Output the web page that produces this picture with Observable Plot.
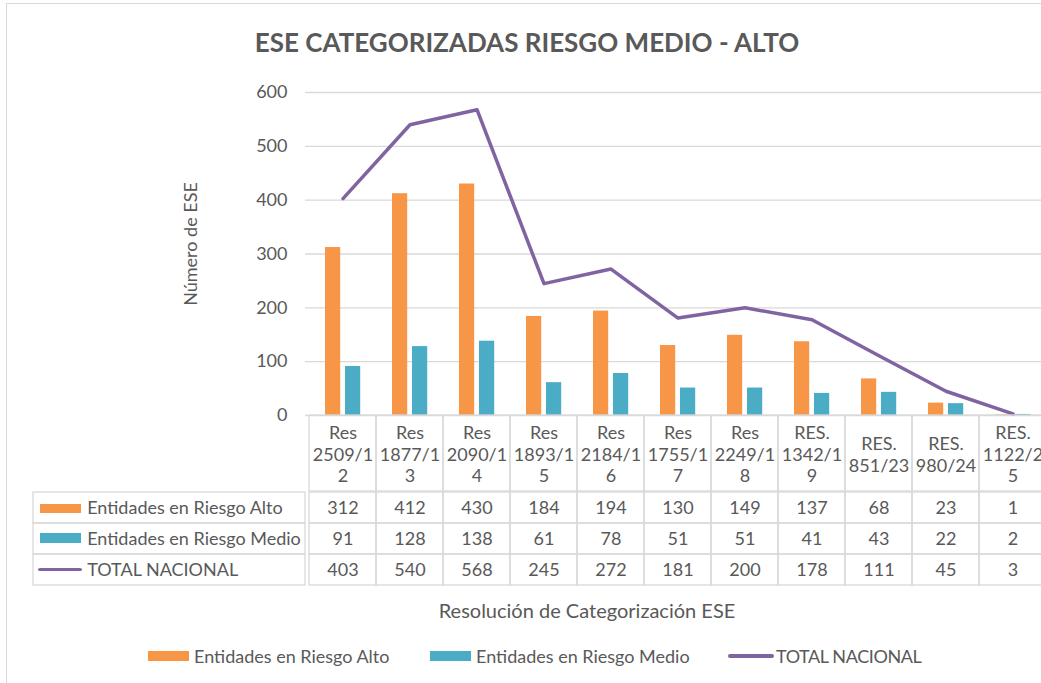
<!DOCTYPE html>
<html><head><meta charset="utf-8">
<script src="https://cdn.jsdelivr.net/npm/d3@7"></script>
<script src="https://cdn.jsdelivr.net/npm/@observablehq/plot@0.6"></script>
<style>
body{margin:0;overflow:hidden;background:#fff;}
#wrap{position:relative;width:1041px;height:683px;overflow:hidden;font-family:Lato,sans-serif;color:#595959;background:#fff;}
#wrap svg{position:absolute;left:0;top:0;}
#border{position:absolute;left:6px;top:3px;width:1100px;height:720px;border:1.5px solid #d9d9d9;box-sizing:border-box;}
#title{position:absolute;left:527px;top:27px;transform:translateX(-50%);font-weight:bold;font-size:26px;line-height:30px;white-space:nowrap;}
#ylabel{position:absolute;left:190px;top:244px;transform:translate(-50%,-50%) rotate(-90deg);font-size:18px;line-height:22px;white-space:nowrap;}
#caption{position:absolute;left:587px;top:597px;transform:translateX(-50%);font-size:20px;line-height:26px;white-space:nowrap;}
.leg{position:absolute;top:645px;font-size:18px;line-height:22px;white-space:nowrap;}
.key{position:absolute;}
</style></head><body><div id="wrap">
<div id="border"></div>
<div id="title">ESE CATEGORIZADAS RIESGO MEDIO - ALTO</div>
<div id="caption">Resolución de Categorización ESE</div>
</div>
<script>
const categories = ["Res\n2509/1\n2","Res\n1877/1\n3","Res\n2090/1\n4","Res\n1893/1\n5","Res\n2184/1\n6","Res\n1755/1\n7","Res\n2249/1\n8","RES.\n1342/1\n9","RES.\n851/23","RES.\n980/24","RES.\n1122/2\n5"];
const seriesNames = ["Entidades en Riesgo Alto","Entidades en Riesgo Medio","TOTAL NACIONAL"];
const colors = ["#F79646","#4BACC6","#8064A2"];
const alto  = [312,412,430,184,194,130,149,137,68,23,1];
const medio = [91,128,138,61,78,51,51,41,43,22,2];
const total = [403,540,568,245,272,181,200,178,111,45,3];
const yTicks = [0,100,200,300,400,500,600];
const yLabel = "Número de ESE";

const data = categories.map((c,i)=>({cat:c, alto:alto[i], medio:medio[i], total:total[i]}));
const rowKeys = ["alto","medio","total"];
const cells = rowKeys.flatMap((k,r)=>data.map(d=>({cat:d.cat,row:seriesNames[r],value:d[k]})));

const TXT = "#595959", GRID = "#d9d9d9";
const X0 = 305, STEP = 67.8;
const xScale = {type:"band", domain:categories, range:[X0, X0+STEP*categories.length], padding:0, axis:null};
const common = {width:1041, height:683, style:{background:"transparent", fontFamily:"Lato, sans-serif", color:TXT, overflow:"visible"}};
const wrap = document.getElementById("wrap");

const yl = document.createElement("div");
yl.id = "ylabel";
yl.textContent = yLabel;
wrap.appendChild(yl);

const main = Plot.plot({
  ...common,
  marginLeft:305, marginRight:0, marginTop:92, marginBottom:268,
  x:xScale,
  y:{domain:[0,600], range:[415,92], axis:null},
  marks:[
    Plot.gridY(yTicks, {stroke:GRID, strokeOpacity:1, strokeWidth:1.3}),
    Plot.axisY(yTicks, {tickSize:0, tickPadding:18, fontSize:18, fill:TXT, label:null}),
    Plot.barY(data, {x:"cat", y:"alto", fill:colors[0], insetLeft:16, insetRight:STEP-32}),
    Plot.barY(data, {x:"cat", y:"medio", fill:colors[1], insetLeft:36, insetRight:STEP-52}),
    Plot.line(data, {x:"cat", y:"total", stroke:colors[2], strokeWidth:3.5, strokeLinecap:"round", strokeLinejoin:"round"})
  ]
});

const header = Plot.plot({
  ...common, margin:0,
  x:xScale,
  y:{type:"band", domain:["header"], range:[415,491], padding:0, axis:null},
  marks:[
    Plot.cell(categories, {x:d=>d, y:()=>"header", fill:"none", stroke:GRID, strokeWidth:1.3}),
    Plot.text(categories, {x:d=>d, y:()=>"header", text:d=>d, fontSize:18, lineHeight:1.22, fill:TXT})
  ]
});

const rows = Plot.plot({
  ...common, margin:0,
  x:xScale,
  y:{type:"band", domain:seriesNames, range:[491,586], padding:0, axis:null},
  marks:[
    Plot.cell(cells, {x:"cat", y:"row", fill:"none", stroke:GRID, strokeWidth:1.3}),
    Plot.text(cells, {x:"cat", y:"row", text:"value", fontSize:18, fill:TXT})
  ]
});

const labels = Plot.plot({
  ...common, margin:0,
  x:{type:"band", domain:["label"], range:[33,305], padding:0, axis:null},
  y:{type:"band", domain:seriesNames, range:[491,586], padding:0, axis:null},
  marks:[
    Plot.cell(seriesNames, {x:()=>"label", y:d=>d, fill:"none", stroke:GRID, strokeWidth:1.3}),
    Plot.cell([seriesNames[0]], {x:()=>"label", y:d=>d, fill:colors[0], insetLeft:7, insetRight:224, insetTop:12, insetBottom:10}),
    Plot.cell([seriesNames[1]], {x:()=>"label", y:d=>d, fill:colors[1], insetLeft:7, insetRight:224, insetTop:10, insetBottom:11}),
    Plot.cell([seriesNames[2]], {x:()=>"label", y:d=>d, fill:colors[2], insetLeft:5, insetRight:223, insetTop:14, insetBottom:14, rx:2}),
    Plot.text(seriesNames, {x:()=>"label", y:d=>d, text:d=>d, textAnchor:"start", dx:-82.3, fontSize:18, fill:TXT})
  ]
});

[main, header, rows, labels].forEach(s=>wrap.appendChild(s));

// bottom legend
const legPos = [{k:148, t:194, w:41, h:10}, {k:430, t:476, w:41, h:10}, {k:728, t:776, w:46, h:4}];
seriesNames.forEach((name,i)=>{
  const p = legPos[i];
  const key = document.createElement("div");
  key.className = "key";
  key.style.cssText = `left:${p.k}px;top:${656-p.h/2}px;width:${p.w}px;height:${p.h}px;background:${colors[i]};border-radius:${i===2?2:0}px;`;
  wrap.appendChild(key);
  const t = document.createElement("div");
  t.className = "leg";
  t.style.left = p.t + "px";
  if (i===2) t.style.letterSpacing = "-0.4px";
  t.textContent = name;
  wrap.appendChild(t);
});
</script>
</body></html>
